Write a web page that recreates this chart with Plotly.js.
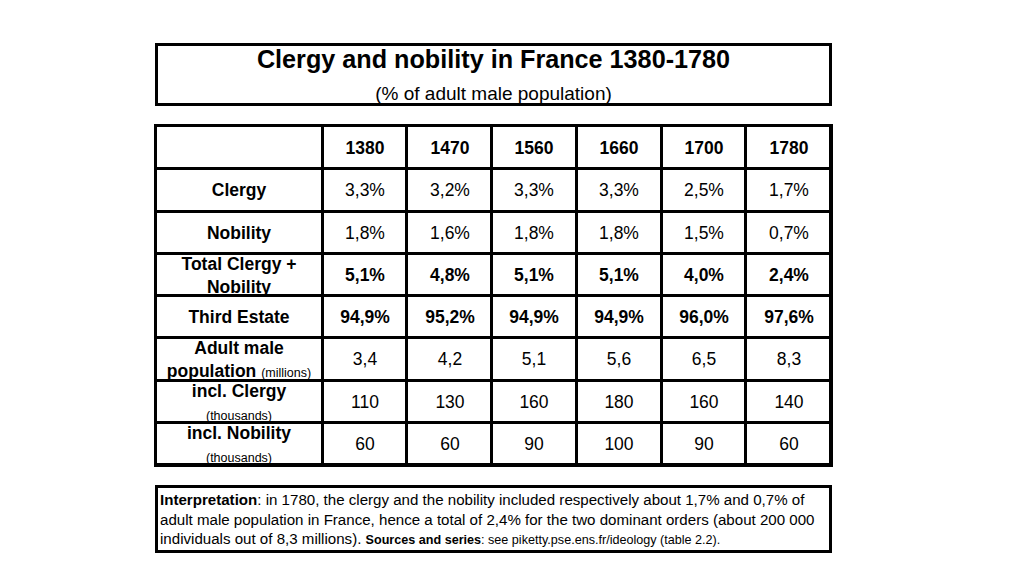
<!DOCTYPE html>
<html>
<head>
<meta charset="utf-8">
<script src="https://cdn.plot.ly/plotly-3.0.1.min.js"></script>
<style>html,body{margin:0;padding:0;background:#fff;}#chart{width:1024px;height:576px;}</style>
</head>
<body>
<div id="chart"></div>
<script>
// ---- data ----
var years = [1380, 1470, 1560, 1660, 1700, 1780];
var rowLabels = [
  "<b>Clergy</b>",
  "<b>Nobility</b>",
  "<b>Total Clergy +<br>Nobility</b>",
  "<b>Third Estate</b>",
  "<b>Adult male<br>population</b> <span style='font-size:12.5px'>(millions)</span>",
  "<b>incl. Clergy</b><br><span style='font-size:12.5px'>(thousands)</span>",
  "<b>incl. Nobility</b><br><span style='font-size:12.5px'>(thousands)</span>"
];
var clergyPct    = [3.3, 3.2, 3.3, 3.3, 2.5, 1.7];
var nobilityPct  = [1.8, 1.6, 1.8, 1.8, 1.5, 0.7];
var totalPct     = [5.1, 4.8, 5.1, 5.1, 4.0, 2.4];
var thirdPct     = [94.9, 95.2, 94.9, 94.9, 96.0, 97.6];
var adultPop     = [3.4, 4.2, 5.1, 5.6, 6.5, 8.3];
var inclClergy   = [110, 130, 160, 180, 160, 140];
var inclNobility = [60, 60, 90, 100, 90, 60];

var titleText = "Clergy and nobility in France 1380-1780";
var subtitleText = "(% of adult male population)";
var noteLines = [
  "<b>Interpretation</b>: in 1780, the clergy and the nobility included respectively about 1,7% and 0,7% of",
  "adult male population in France, hence a total of 2,4% for the two dominant orders (about 200 000",
  "individuals out of 8,3 millions). <span style='font-size:12.6px'><b>Sources and series</b>: see piketty.pse.ens.fr/ideology (table 2.2).</span>"
];

// ---- layout sizes (not data) ----
var colWidths = [167, 85, 85, 85, 85, 85, 85];
var headerHeight = 43, rowHeight = 42;

function edges(sizes) {
  var e = [0];
  sizes.forEach(function (s) { e.push(e[e.length - 1] + s); });
  return e;
}
function fmt(v) { return v.toFixed(1).replace('.', ','); }
function pct(v) { return fmt(v) + '%'; }

// ---- build cell grid ----
var text = [];
var headerRow = [''].concat(years.map(function (y) { return '<b>' + y + '</b>'; }));
text.push(headerRow);
var rowsValues = [
  clergyPct.map(pct),
  nobilityPct.map(pct),
  totalPct.map(function (v) { return '<b>' + pct(v) + '</b>'; }),
  thirdPct.map(function (v) { return '<b>' + pct(v) + '</b>'; }),
  adultPop.map(fmt),
  inclClergy.map(String),
  inclNobility.map(String)
];
for (var r = 0; r < rowLabels.length; r++) {
  text.push([rowLabels[r]].concat(rowsValues[r]));
}
var z = text.map(function (row) { return row.map(function () { return 0; }); });
var rowSizes = [headerHeight];
for (var k = 0; k < rowLabels.length; k++) rowSizes.push(rowHeight);
var xEdges = edges(colWidths);
var yEdges = edges(rowSizes);

var font = "Liberation Sans, Arial, sans-serif";

var trace = {
  type: 'heatmap',
  x: xEdges,
  y: yEdges,
  z: z,
  text: text,
  texttemplate: '%{text}',
  textfont: {family: font, size: 17.5, color: '#000'},
  colorscale: [[0, '#ffffff'], [1, '#ffffff']],
  zmin: 0, zmax: 1,
  showscale: false,
  xgap: 3, ygap: 3,
  hoverinfo: 'skip'
};

var axisCommon = {
  showgrid: false, zeroline: false, showticklabels: false, ticks: '',
  showline: true, mirror: true, linecolor: '#000', linewidth: 2, fixedrange: true
};

var layout = {
  width: 1024, height: 576,
  margin: {l: 0, r: 0, t: 0, b: 0},
  paper_bgcolor: '#fff',
  plot_bgcolor: '#000',
  showlegend: false,
  xaxis: Object.assign({}, axisCommon, {domain: [156/1024, 831/1024], range: [xEdges[0], xEdges[xEdges.length - 1]]}),
  yaxis: Object.assign({}, axisCommon, {domain: [1 - 465/576, 1 - 126/576], range: [yEdges[yEdges.length - 1], yEdges[0]]}),
  annotations: [
    {
      xref: 'paper', yref: 'paper', x: 493.5/1024, y: 1 - 74.5/576,
      xanchor: 'center', yanchor: 'middle',
      text: '<b>' + titleText + '</b><br><span style="font-size:19px">' + subtitleText + '</span>',
      showarrow: false, align: 'center',
      font: {family: font, size: 25.2, color: '#000'},
      width: 671, height: 57,
      bordercolor: '#000', borderwidth: 3, borderpad: 0, bgcolor: '#fff'
    },
    {
      xref: 'paper', yref: 'paper', x: 493.5/1024, y: 1 - 519/576,
      xanchor: 'center', yanchor: 'middle',
      text: noteLines.join('<br>'),
      showarrow: false, align: 'left',
      font: {family: font, size: 15.1, color: '#000'},
      width: 667, height: 58,
      bordercolor: '#000', borderwidth: 3, borderpad: 2, bgcolor: '#fff'
    }
  ]
};

Plotly.newPlot('chart', [trace], layout, {displayModeBar: false, staticPlot: true});
</script>
</body>
</html>
